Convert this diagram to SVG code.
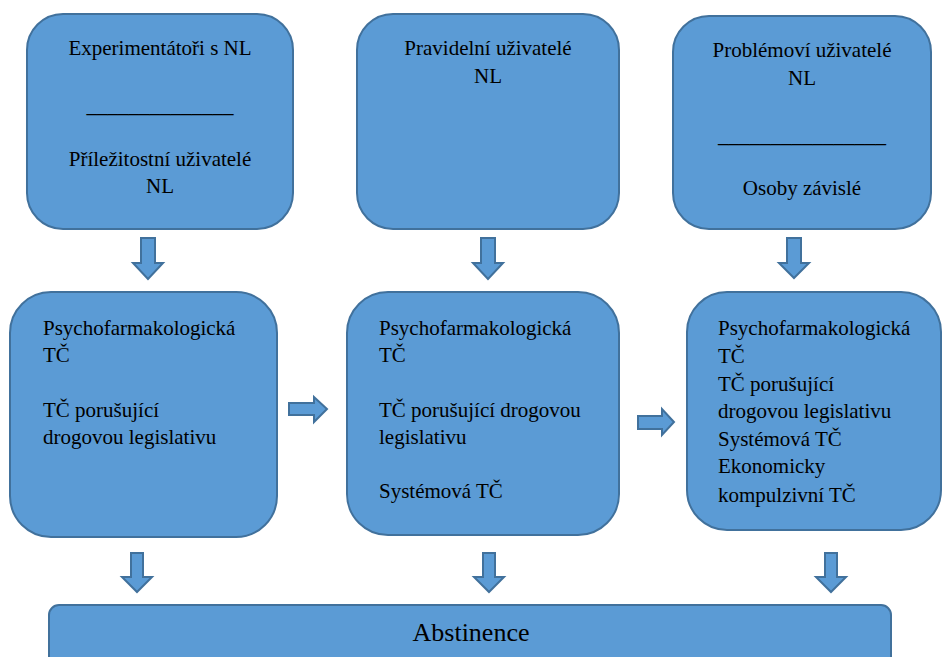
<svg xmlns="http://www.w3.org/2000/svg" width="943" height="657" viewBox="0 0 943 657">
<style>
.box{fill:#5B9BD5;stroke:#41719C;stroke-width:2}
.arr{fill:#5B9BD5;stroke:#41719C;stroke-width:2;stroke-linejoin:miter}
text{font-family:'Liberation Serif','Times New Roman',serif;font-size:21px;fill:#000}
.c{text-anchor:middle}
.big{font-size:26px}
</style>
<rect width="943" height="657" fill="#fff"/>
<g id="n1">
<rect class="box" x="27" y="14" width="266" height="215" rx="36" ry="36"/>
<text class="c" x="160" y="55">Experimentátoři s NL</text>
<text class="c" x="160" y="112">______________</text>
<text class="c" x="160" y="166">Příležitostní uživatelé</text>
<text class="c" x="160" y="193">NL</text>
</g>
<g id="n2">
<rect class="box" x="357" y="14" width="262" height="215" rx="36" ry="36"/>
<text class="c" x="488" y="55">Pravidelní uživatelé</text>
<text class="c" x="488" y="83">NL</text>
</g>
<g id="n3">
<rect class="box" x="673" y="16" width="258" height="213" rx="36" ry="36"/>
<text class="c" x="802" y="57">Problémoví uživatelé</text>
<text class="c" x="802" y="85">NL</text>
<text class="c" x="802" y="142">________________</text>
<text class="c" x="802" y="195">Osoby závislé</text>
</g>
<g id="n4">
<rect class="box" x="10" y="292" width="267" height="245" rx="41" ry="41"/>
<text x="43" y="335">Psychofarmakologická</text>
<text x="43" y="362">TČ</text>
<text x="43" y="417">TČ porušující</text>
<text x="43" y="444">drogovou legislativu</text>
</g>
<g id="n5">
<rect class="box" x="347" y="292" width="272" height="243" rx="41" ry="41"/>
<text x="379" y="335">Psychofarmakologická</text>
<text x="379" y="362">TČ</text>
<text x="379" y="417">TČ porušující drogovou</text>
<text x="379" y="444">legislativu</text>
<text x="379" y="498">Systémová TČ</text>
</g>
<g id="n6">
<rect class="box" x="687" y="292" width="254" height="238" rx="40" ry="40"/>
<text x="718" y="335">Psychofarmakologická</text>
<text x="718" y="363">TČ</text>
<text x="718" y="391">TČ porušující</text>
<text x="718" y="418">drogovou legislativu</text>
<text x="718" y="446">Systémová TČ</text>
<text x="718" y="473">Ekonomicky</text>
<text x="718" y="502">kompulzivní TČ</text>
</g>
<g id="n7">
<rect class="box" x="49" y="605" width="842" height="80" rx="10" ry="10"/>
<text class="c big" x="471" y="641">Abstinence</text>
</g>
<g id="connectors">
<path class="arr" d="M141,238 H155 V263 H163 L148,279 L133,263 H141 Z"/>
<path class="arr" d="M481,238 H495 V263 H503 L488,279 L473,263 H481 Z"/>
<path class="arr" d="M787,238 H801 V263 H809 L794,278 L779,263 H787 Z"/>
<path class="arr" d="M131,553 H143 V577 H152 L137,592 L122,577 H131 Z"/>
<path class="arr" d="M483,553 H495 V577 H504 L489,592 L474,577 H483 Z"/>
<path class="arr" d="M825,553 H837 V577 H846 L831,592 L816,577 H825 Z"/>
<path class="arr" d="M289,403 H314 V397 L327,409 L314,422 V415 H289 Z"/>
<path class="arr" d="M638,416 H662 V409 L674,422 L662,435 V429 H638 Z"/>
</g>
</svg>
